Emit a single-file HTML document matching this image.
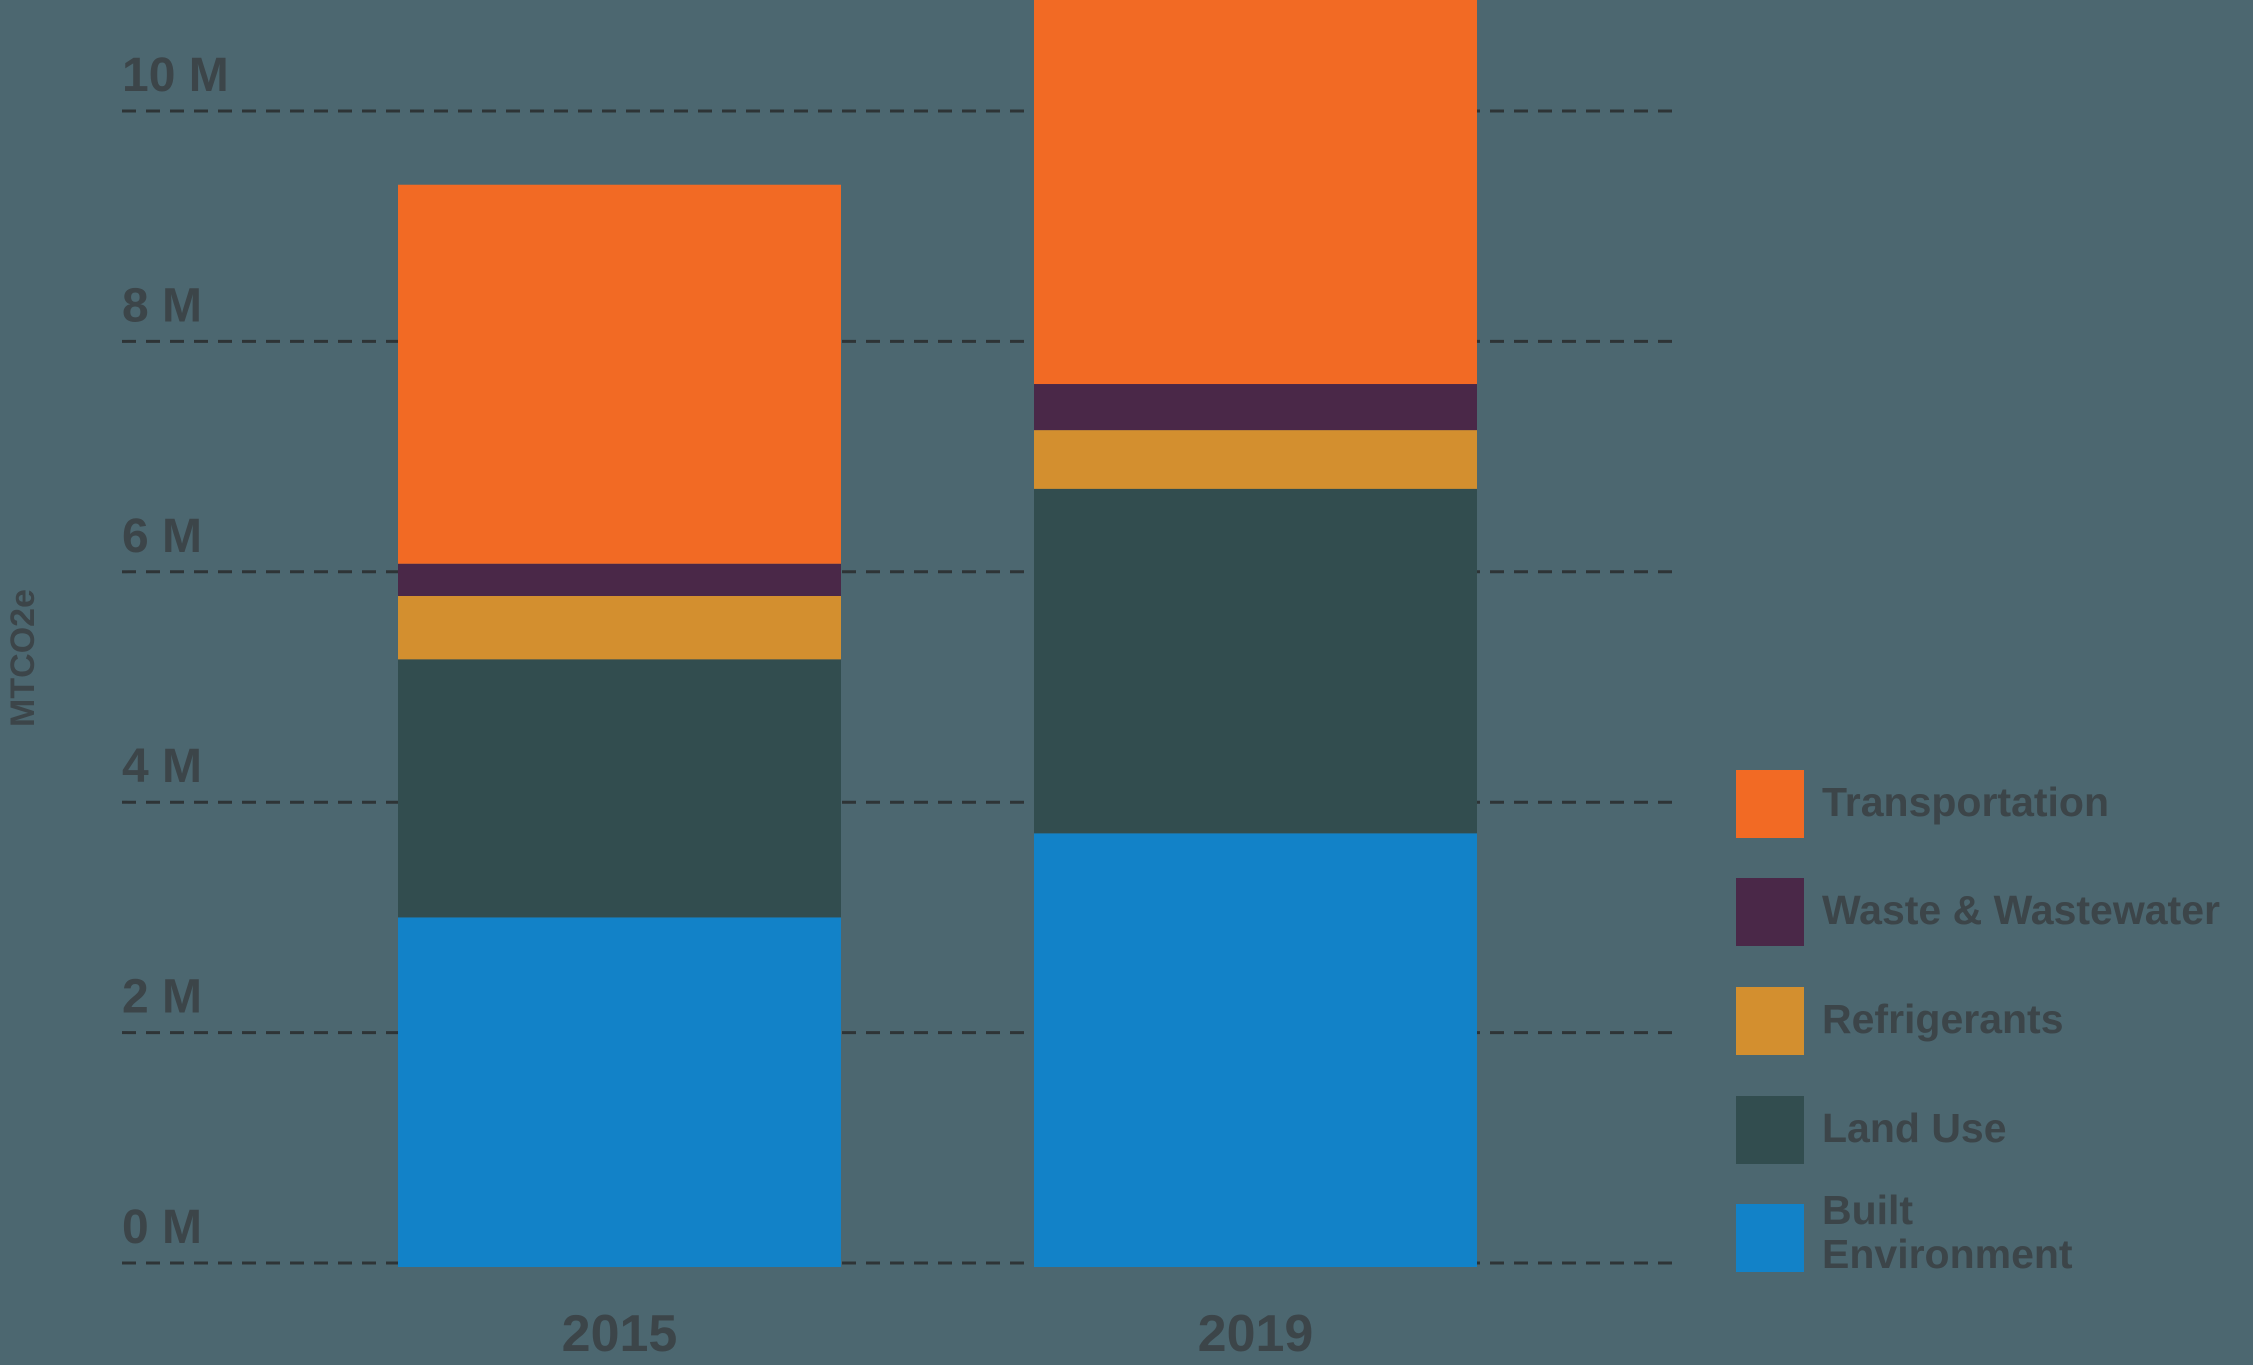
<!DOCTYPE html>
<html><head><meta charset="utf-8"><style>
html,body{margin:0;padding:0;background:#4c6770;}
svg{display:block;font-family:"Liberation Sans",sans-serif;font-weight:bold;}
</style></head><body>
<svg id="chart" width="2253" height="1365" viewBox="0 0 2253 1365">
<rect width="2253" height="1365" fill="#4c6770"/>
<g id="grid"></g><g id="bars"></g><g id="labels"></g><g id="legend"></g>
<text transform="translate(34,658) rotate(-90)" text-anchor="middle" font-size="34" fill="#3c4549">MTCO2e</text>
</svg>
<script>
const years = ["2015","2019"];
const seriesNames = ["Built Environment","Land Use","Refrigerants","Waste & Wastewater","Transportation"];
const builtEnv = [3.0, 3.73];
const landUse = [2.24, 2.99];
const refrigerants = [0.55, 0.51];
const waste = [0.28, 0.40];
const transport = [3.29, 3.57];
const yTicks = [0,2,4,6,8,10];
const tickLabels = ["0 M","2 M","4 M","6 M","8 M","10 M"];
const colors = ["#1282c8","#324d4f","#d38f2f","#4a2848","#f26a24"];
const series = [builtEnv, landUse, refrigerants, waste, transport];
const NS = "http://www.w3.org/2000/svg";
const y0 = 1263, pxPerM = 115.2;
const y = v => y0 - v * pxPerM;
const barX = i => 398 + i * 636;
const barW = 443;
function mk(tag, attrs, parent){const e=document.createElementNS(NS,tag);for(const k in attrs)e.setAttribute(k,attrs[k]);parent.appendChild(e);return e;}
const grid=document.getElementById('grid'), bars=document.getElementById('bars'), labels=document.getElementById('labels'), legend=document.getElementById('legend');
yTicks.forEach((t,i)=>{
  const l=mk('line',{x1:122,x2:1674,y1:y(t),y2:y(t),stroke:'#2e3436','stroke-width':3,'stroke-dasharray':'14 10'},grid);
  
  
  const tx=mk('text',{x:122,y:y(t)-20,'font-size':48,fill:'#3c4549'},labels);
  tx.textContent=tickLabels[i];
  
  
});
years.forEach((yr,i)=>{
  let base=0;
  series.forEach((s,j)=>{
    const v=s[i];
    const r=mk('rect',{x:barX(i),y:Math.max(0,y(base+v)),width:barW,height:y(base)-Math.max(0,y(base+v))+(base===0?4:0),fill:colors[j]},bars);
    
    
    base+=v;
  });
  const tx=mk('text',{x:barX(i)+barW/2,y:1351,'font-size':52,fill:'#3c4549','text-anchor':'middle'},labels);
  tx.textContent=yr;
  
  
});
const legendY=[1204,1096,987,878,770];
seriesNames.forEach((n,j)=>{
  const r=mk('rect',{x:1736,y:legendY[j],width:68,height:68,fill:colors[j]},legend);
  
  
  const tx=mk('text',{x:1822,'font-size':41,fill:'#3c4549'},legend);
  
  
  if(n==="Built Environment"){
    tx.setAttribute('y',legendY[j]+20);
    const a=mk('tspan',{x:1822,dy:0},tx);a.textContent="Built";
    const b=mk('tspan',{x:1822,dy:44},tx);b.textContent="Environment";
  } else {
    tx.setAttribute('y',legendY[j]+46);
    tx.textContent=n;
  }
});
</script>
</body></html>
